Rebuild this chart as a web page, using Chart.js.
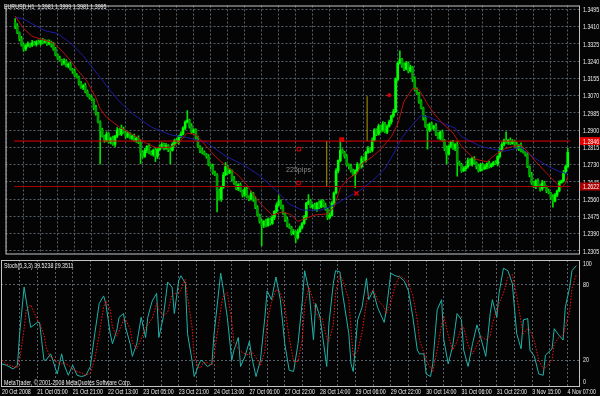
<!DOCTYPE html>
<html>
<head>
<meta charset="utf-8">
<title>EURUSD H1</title>
<script src="https://cdn.jsdelivr.net/npm/chart.js@4.4.0/dist/chart.umd.min.js"></script>
<style>
  html, body { margin: 0; padding: 0; background: #040404; }
  #wrap { position: relative; width: 600px; height: 396px; overflow: hidden; background: #040404; }
  #price-box { position: absolute; left: 0; top: 0; width: 600px; height: 259px; }
  #stoch-box { position: absolute; left: 0; top: 259px; width: 600px; height: 137px; }
</style>
</head>
<body>
<div id="wrap">
  <div id="price-box"><canvas id="price-chart" width="600" height="259"></canvas></div>
  <div id="stoch-box"><canvas id="stoch-chart" width="600" height="137"></canvas></div>
</div>
<script>
// EURUSD H1 with two moving averages and Stochastic(5,3,3)

const FONT = '8px "Liberation Sans", Arial, sans-serif';
const SQUASH = 0.66;   // screenshot text is horizontally condensed
const GRID = '#56606b';
const FRAME = '#c4c4c4';
const TEXT = '#f0f0f0';

// time axis labels, one every 16 bars
const timeLabels = ['20 Oct 2008', '21 Oct 05:00', '21 Oct 21:00', '22 Oct 13:00', '23 Oct 05:00',
  '23 Oct 21:00', '24 Oct 13:00', '27 Oct 06:00', '27 Oct 22:00', '28 Oct 14:00', '29 Oct 06:00',
  '29 Oct 22:00', '30 Oct 14:00', '31 Oct 06:00', '31 Oct 22:00', '3 Nov 15:00', '4 Nov 07:00'];

const priceTicks = [1.2305, 1.2390, 1.2475, 1.2560, 1.2645, 1.2730, 1.2815, 1.2900,
  1.2985, 1.3070, 1.3155, 1.3240, 1.3325, 1.3410, 1.3495];

// hourly bars
const opens = [
  1.3430,1.3415,1.3380,1.3350,1.3320,1.3300,1.3315,1.3325,1.3318,1.3330,
  1.3322,1.3335,1.3328,1.3340,1.3332,1.3338,1.3325,1.3335,1.3320,1.3300,
  1.3270,1.3255,1.3245,1.3230,1.3240,1.3215,1.3225,1.3200,1.3190,1.3170,
  1.3160,1.3130,1.3110,1.3120,1.3090,1.3070,1.3060,1.3050,1.3010,1.2980,
  1.2940,1.2900,1.2870,1.2850,1.2880,1.2840,1.2860,1.2830,1.2870,1.2900,
  1.2880,1.2905,1.2890,1.2870,1.2880,1.2860,1.2870,1.2850,1.2860,1.2840,
  1.2790,1.2770,1.2800,1.2820,1.2790,1.2780,1.2800,1.2770,1.2805,1.2815,
  1.2830,1.2810,1.2825,1.2805,1.2800,1.2830,1.2850,1.2840,1.2870,1.2880,
  1.2910,1.2940,1.2950,1.2920,1.2890,1.2900,1.2860,1.2820,1.2800,1.2790,
  1.2780,1.2770,1.2730,1.2720,1.2690,1.2680,1.2600,1.2560,1.2620,1.2680,
  1.2720,1.2690,1.2700,1.2660,1.2640,1.2610,1.2630,1.2600,1.2580,1.2610,
  1.2570,1.2560,1.2590,1.2560,1.2520,1.2480,1.2450,1.2430,1.2450,1.2430,
  1.2460,1.2440,1.2470,1.2500,1.2530,1.2550,1.2520,1.2490,1.2460,1.2430,
  1.2420,1.2390,1.2400,1.2370,1.2400,1.2420,1.2440,1.2470,1.2540,1.2550,
  1.2520,1.2530,1.2510,1.2540,1.2520,1.2550,1.2530,1.2510,1.2470,1.2480,
  1.2540,1.2590,1.2700,1.2750,1.2800,1.2790,1.2770,1.2730,1.2720,1.2700,
  1.2680,1.2700,1.2730,1.2720,1.2760,1.2750,1.2790,1.2810,1.2800,1.2850,
  1.2900,1.2880,1.2920,1.2900,1.2930,1.2890,1.2920,1.2940,1.2970,1.2990,
  1.3150,1.3230,1.3250,1.3220,1.3200,1.3230,1.3190,1.3210,1.3150,1.3100,
  1.3080,1.3040,1.3010,1.2960,1.2920,1.2900,1.2930,1.2910,1.2920,1.2880,
  1.2860,1.2890,1.2850,1.2810,1.2780,1.2820,1.2840,1.2810,1.2830,1.2740,
  1.2730,1.2700,1.2710,1.2720,1.2750,1.2730,1.2760,1.2740,1.2720,1.2700,
  1.2730,1.2710,1.2720,1.2735,1.2720,1.2730,1.2740,1.2735,1.2770,1.2800,
  1.2830,1.2850,1.2840,1.2850,1.2835,1.2845,1.2830,1.2810,1.2825,1.2800,
  1.2790,1.2780,1.2720,1.2680,1.2640,1.2620,1.2650,1.2630,1.2610,1.2640,
  1.2620,1.2600,1.2590,1.2570,1.2550,1.2580,1.2600,1.2640,1.2650,1.2690,1.2720
];
const highs = [
  1.3450,1.3425,1.3384,1.3362,1.3328,1.3321,1.3335,1.3329,1.3342,1.3338,
  1.3341,1.3345,1.3344,1.3352,1.3346,1.3344,1.3345,1.3339,1.3332,1.3308,
  1.3276,1.3265,1.3249,1.3252,1.3248,1.3231,1.3235,1.3204,1.3202,1.3178,
  1.3166,1.3140,1.3124,1.3132,1.3098,1.3076,1.3070,1.3054,1.3022,1.2988,
  1.2946,1.2910,1.2874,1.2892,1.2888,1.2866,1.2870,1.2874,1.2912,1.2908,
  1.2925,1.2915,1.2894,1.2892,1.2888,1.2876,1.2880,1.2864,1.2872,1.2848,
  1.2796,1.2810,1.2824,1.2832,1.2798,1.2806,1.2810,1.2809,1.2827,1.2838,
  1.2836,1.2835,1.2829,1.2817,1.2838,1.2856,1.2860,1.2874,1.2892,1.2918,
  1.2946,1.2996,1.2954,1.2932,1.2908,1.2906,1.2870,1.2824,1.2812,1.2798,
  1.2786,1.2780,1.2734,1.2732,1.2698,1.2686,1.2610,1.2624,1.2692,1.2740,
  1.2726,1.2710,1.2704,1.2672,1.2648,1.2636,1.2640,1.2604,1.2622,1.2618,
  1.2576,1.2600,1.2594,1.2572,1.2528,1.2486,1.2460,1.2454,1.2462,1.2468,
  1.2466,1.2480,1.2504,1.2542,1.2577,1.2556,1.2530,1.2494,1.2472,1.2438,
  1.2426,1.2410,1.2404,1.2412,1.2428,1.2446,1.2480,1.2544,1.2582,1.2558,
  1.2536,1.2540,1.2544,1.2552,1.2558,1.2556,1.2540,1.2514,1.2492,1.2548,
  1.2596,1.2710,1.2754,1.2853,1.2808,1.2796,1.2780,1.2734,1.2732,1.2708,
  1.2706,1.2740,1.2734,1.2772,1.2768,1.2796,1.2820,1.2814,1.2862,1.2908,
  1.2906,1.2930,1.2924,1.2942,1.2938,1.2926,1.2950,1.2974,1.3002,1.3158,
  1.3236,1.3291,1.3254,1.3232,1.3238,1.3236,1.3220,1.3214,1.3162,1.3108,
  1.3086,1.3050,1.3014,1.2972,1.2928,1.2936,1.2940,1.2924,1.2932,1.2888,
  1.2896,1.2900,1.2854,1.2822,1.2828,1.2846,1.2850,1.2834,1.2842,1.2748,
  1.2736,1.2720,1.2724,1.2762,1.2758,1.2766,1.2770,1.2744,1.2732,1.2738,
  1.2736,1.2730,1.2739,1.2747,1.2738,1.2746,1.2750,1.2774,1.2812,1.2838,
  1.2856,1.2891,1.2854,1.2862,1.2853,1.2851,1.2840,1.2829,1.2837,1.2808,
  1.2796,1.2790,1.2724,1.2692,1.2648,1.2656,1.2660,1.2634,1.2652,1.2648,
  1.2626,1.2610,1.2594,1.2582,1.2588,1.2606,1.2650,1.2654,1.2702,1.2728,1.2810
];
const lows = [
  1.3400,1.3375,1.3339,1.3313,1.3288,1.3292,1.3310,1.3307,1.3311,1.3318,
  1.3314,1.3323,1.3317,1.3325,1.3328,1.3317,1.3320,1.3309,1.3293,1.3266,
  1.3247,1.3240,1.3219,1.3223,1.3211,1.3207,1.3195,1.3179,1.3163,1.3156,
  1.3122,1.3105,1.3099,1.3083,1.3066,1.3052,1.3045,1.2999,1.2973,1.2936,
  1.2734,1.2865,1.2839,1.2843,1.2836,1.2832,1.2825,1.2819,1.2863,1.2876,
  1.2872,1.2885,1.2859,1.2863,1.2856,1.2852,1.2845,1.2839,1.2833,1.2735,
  1.2762,1.2765,1.2789,1.2783,1.2776,1.2772,1.2745,1.2759,1.2798,1.2811,
  1.2802,1.2805,1.2794,1.2735,1.2796,1.2822,1.2835,1.2829,1.2863,1.2876,
  1.2902,1.2935,1.2909,1.2883,1.2886,1.2852,1.2815,1.2789,1.2783,1.2776,
  1.2762,1.2725,1.2709,1.2683,1.2676,1.2497,1.2555,1.2549,1.2613,1.2676,
  1.2682,1.2685,1.2649,1.2633,1.2606,1.2602,1.2595,1.2569,1.2573,1.2566,
  1.2552,1.2555,1.2549,1.2513,1.2476,1.2442,1.2330,1.2419,1.2423,1.2426,
  1.2432,1.2435,1.2459,1.2493,1.2526,1.2512,1.2485,1.2449,1.2423,1.2416,
  1.2382,1.2385,1.2345,1.2363,1.2396,1.2412,1.2435,1.2459,1.2533,1.2516,
  1.2512,1.2505,1.2499,1.2513,1.2516,1.2522,1.2505,1.2459,1.2463,1.2476,
  1.2532,1.2585,1.2689,1.2743,1.2786,1.2762,1.2725,1.2709,1.2693,1.2676,
  1.2616,1.2695,1.2709,1.2713,1.2746,1.2742,1.2785,1.2789,1.2793,1.2846,
  1.2872,1.2875,1.2889,1.2893,1.2886,1.2882,1.2915,1.2929,1.2963,1.2986,
  1.3142,1.3225,1.3209,1.3193,1.3196,1.3182,1.3185,1.3139,1.3093,1.3076,
  1.3032,1.3005,1.2949,1.2913,1.2806,1.2892,1.2905,1.2899,1.2873,1.2856,
  1.2852,1.2845,1.2799,1.2734,1.2776,1.2812,1.2805,1.2799,1.2673,1.2726,
  1.2692,1.2695,1.2699,1.2713,1.2726,1.2722,1.2735,1.2709,1.2693,1.2696,
  1.2702,1.2705,1.2709,1.2713,1.2716,1.2722,1.2730,1.2724,1.2763,1.2796,
  1.2822,1.2835,1.2829,1.2828,1.2831,1.2822,1.2805,1.2799,1.2793,1.2786,
  1.2772,1.2715,1.2669,1.2633,1.2616,1.2612,1.2625,1.2599,1.2603,1.2616,
  1.2592,1.2585,1.2559,1.2520,1.2546,1.2572,1.2595,1.2639,1.2643,1.2686,1.2712
];
const closes = [
  1.3415,1.3380,1.3350,1.3320,1.3300,1.3315,1.3325,1.3318,1.3330,1.3322,
  1.3335,1.3328,1.3340,1.3332,1.3338,1.3325,1.3335,1.3320,1.3300,1.3270,
  1.3255,1.3245,1.3230,1.3240,1.3215,1.3225,1.3200,1.3190,1.3170,1.3160,
  1.3130,1.3110,1.3120,1.3090,1.3070,1.3060,1.3050,1.3010,1.2980,1.2940,
  1.2900,1.2870,1.2850,1.2880,1.2840,1.2860,1.2830,1.2870,1.2900,1.2880,
  1.2905,1.2890,1.2870,1.2880,1.2860,1.2870,1.2850,1.2860,1.2840,1.2790,
  1.2770,1.2800,1.2820,1.2790,1.2780,1.2800,1.2770,1.2805,1.2815,1.2830,
  1.2810,1.2825,1.2805,1.2800,1.2830,1.2850,1.2840,1.2870,1.2880,1.2910,
  1.2940,1.2950,1.2920,1.2890,1.2900,1.2860,1.2820,1.2800,1.2790,1.2780,
  1.2770,1.2730,1.2720,1.2690,1.2680,1.2600,1.2560,1.2620,1.2680,1.2720,
  1.2690,1.2700,1.2660,1.2640,1.2610,1.2630,1.2600,1.2580,1.2610,1.2570,
  1.2560,1.2590,1.2560,1.2520,1.2480,1.2450,1.2430,1.2450,1.2430,1.2460,
  1.2440,1.2470,1.2500,1.2530,1.2550,1.2520,1.2490,1.2460,1.2430,1.2420,
  1.2390,1.2400,1.2370,1.2400,1.2420,1.2440,1.2470,1.2540,1.2550,1.2520,
  1.2530,1.2510,1.2540,1.2520,1.2550,1.2530,1.2510,1.2470,1.2480,1.2540,
  1.2590,1.2700,1.2750,1.2800,1.2790,1.2770,1.2730,1.2720,1.2700,1.2680,
  1.2700,1.2730,1.2720,1.2760,1.2750,1.2790,1.2810,1.2800,1.2850,1.2900,
  1.2880,1.2920,1.2900,1.2930,1.2890,1.2920,1.2940,1.2970,1.2990,1.3150,
  1.3230,1.3250,1.3220,1.3200,1.3230,1.3190,1.3210,1.3150,1.3100,1.3080,
  1.3040,1.3010,1.2960,1.2920,1.2900,1.2930,1.2910,1.2920,1.2880,1.2860,
  1.2890,1.2850,1.2810,1.2780,1.2820,1.2840,1.2810,1.2830,1.2740,1.2730,
  1.2700,1.2710,1.2720,1.2750,1.2730,1.2760,1.2740,1.2720,1.2700,1.2730,
  1.2710,1.2720,1.2735,1.2720,1.2730,1.2740,1.2735,1.2770,1.2800,1.2830,
  1.2850,1.2840,1.2850,1.2835,1.2845,1.2830,1.2810,1.2825,1.2800,1.2790,
  1.2780,1.2720,1.2680,1.2640,1.2620,1.2650,1.2630,1.2610,1.2640,1.2620,
  1.2600,1.2590,1.2570,1.2550,1.2580,1.2600,1.2640,1.2650,1.2690,1.2720,1.2790
];

// moving averages, read at selected bars
const redMaBars = [0,4,8,14,18,22,26,29,34,38,40,43,49,57,61,66,73,77,81,85,88,90,94,99,105,109,112,117,121,126,
  130,133,136,141,147,150,153,157,161,163,168,172,177,180,183,187,190,194,197,201,206,210,216,222,225,230,234,238,240,245,
  251,256,257,259,260];
const redMaValues = [1.3462,1.3400,1.3362,1.3343,1.3329,1.3291,1.3243,1.3200,1.3138,1.3058,1.3005,1.2963,1.2915,1.2868,1.2839,
  1.2815,1.2815,1.2839,1.2886,1.2877,1.2844,1.2820,1.2772,1.2725,1.2677,1.2630,1.2582,1.2520,1.2482,1.2497,
  1.2482,1.2449,1.2463,1.2482,1.2487,1.2520,1.2616,1.2663,1.2687,1.2734,1.2768,1.2806,1.2868,1.2930,1.3043,
  1.3105,1.3100,1.3029,1.2982,1.2934,1.2886,1.2820,1.2758,1.2744,1.2772,1.2806,1.2820,1.2825,1.2806,1.2744,
  1.2677,1.2625,1.2616,1.2639,1.2673];
const blueMaBars = [0,4,8,14,20,26,32,38,44,48,55,64,73,81,90,99,108,115,123,129,135,144,150,156,162,168,174,178,182,188,
  191,195,200,207,210,219,225,230,238,240,245,251,256,259,260];
const blueMaValues = [1.3457,1.3447,1.3424,1.3390,1.3376,1.3329,1.3267,1.3186,1.3105,1.3053,1.2982,1.2915,1.2877,1.2863,1.2839,
  1.2772,1.2725,1.2677,1.2601,1.2535,1.2506,1.2506,1.2530,1.2568,1.2601,1.2649,1.2711,1.2782,1.2863,1.2939,
  1.2972,1.2963,1.2939,1.2910,1.2868,1.2820,1.2806,1.2796,1.2815,1.2796,1.2758,1.2720,1.2696,1.2687,1.2696];

// objects drawn on the chart
const levelPrices = [1.2846, 1.2622];
const levelColors = ['#e00000', '#a80000'];
const vlineBars = [146.6, 165.6];
const vlineLows = [1.2622, 1.2846];
const vlineHighs = [1.2846, 1.3067];
const boxMarkBars = [133.5, 133.3, 153.7];
const boxMarkPrices = [1.2806, 1.2639, 1.2853];
const crossMarkBars = [153.7, 160.6];
const crossMarkPrices = [1.2853, 1.2588];
const dotMarkBars = [176];
const dotMarkPrices = [1.3072];
const noteText = '225pips';
const noteBar = 133.3;
const notePrice = 1.2706;

// Stochastic(5,3,3), read at selected bars
const stochBars = [0,2,5,7,8,10,11,13,16,17,19,20,22,23,25,27,28,30,32,34,36,38,40,42,44,46,47,49,50,52,
  53,55,56,58,59,61,63,65,66,68,70,71,73,75,77,78,80,81,83,84,86,87,89,90,91,93,95,96,99,100,
  102,104,105,107,108,110,112,113,115,117,119,120,122,124,126,128,130,132,134,136,137,139,141,142,144,145,147,148,150,151,
  153,154,157,158,159,161,163,165,166,168,170,173,174,176,178,180,182,184,186,188,189,191,192,194,195,197,199,200,202,204,
  206,208,209,211,213,215,217,219,221,222,224,225,227,229,231,233,235,236,238,239,241,243,245,246,249,250,252,254,255,257,
  258,260];
const stochMain = [17,16,13,16,41,78,67,46,50,50,20,20,25,20,9,25,17,8,16,8,7,8,15,41,65,71,65,41,33,44,
  54,57,46,33,23,33,54,38,54,67,73,38,54,82,78,57,83,87,81,41,20,7,16,20,19,15,17,41,89,78,
  54,20,28,38,15,23,35,23,7,20,54,75,68,86,68,33,12,11,33,68,91,75,36,65,54,41,15,49,81,91,
  90,75,41,17,11,52,62,85,68,75,62,50,60,89,87,86,83,75,54,28,25,25,9,7,17,60,68,36,17,31,
  57,52,28,15,33,48,36,23,57,68,54,73,93,91,81,41,29,52,53,28,23,9,8,24,29,45,40,36,62,78,
  91,95];
const stochSignal = [20,17,15,14,20,45,60,64,52,50,40,30,22,22,18,17,18,16,13,11,10,8,10,21,40,62,67,60,46,39,
  43,52,52,45,34,29,37,46,48,53,65,60,55,58,72,73,73,76,84,70,47,23,14,14,18,18,16,24,60,70,
  74,51,34,29,27,25,24,27,22,16,27,50,66,76,74,62,38,19,19,37,64,78,67,58,52,53,37,35,48,74,
  87,85,68,44,23,27,42,66,72,76,68,62,57,66,79,87,85,81,71,52,36,26,20,14,11,28,48,55,40,28,
  35,47,46,32,25,32,39,36,39,49,60,65,73,86,88,71,50,41,45,44,35,20,13,14,20,33,38,40,46,59,
  77,88];
const stochLevels = [100, 80, 20, 0];

const headerText = 'EURUSD,H1  1.3981 1.3999 1.3981 1.3995';
const stochText = 'Stoch(5,3,3) 39.5238 29.3511';
const footerText = 'MetaTrader, \u00a9 2001-2008 MetaQuotes Software Corp.';

const X_MIN = -0.45;
const X_MAX = 261.2;
const gridBars = timeLabels.flatMap((_, j) => [j * 16, j * 16 + 8]).filter(b => b <= 256);

// build datasets
const barIdx = closes.map((_, i) => i);
const wickData = barIdx.map(i => ({ x: i, y: [lows[i], highs[i]] }));
const bodyData = barIdx.map(i => ({ x: i, y: [opens[i], closes[i]] }));
const bodyColors = barIdx.map(i => closes[i] >= opens[i] ? '#00ff00' : '#00a000');
const pairs = (xs, ys) => xs.map((x, i) => ({ x: x, y: ys[i] }));

// condensed text, like the small terminal font in the screenshot
function squashText(ctx, text, x, y, color) {
    ctx.save();
    ctx.translate(x, y);
    ctx.scale(SQUASH, 1);
    ctx.font = FONT;
    ctx.textAlign = 'left';
    ctx.textBaseline = 'middle';
    ctx.fillStyle = color || TEXT;
    ctx.fillText(text, 0, 0);
    ctx.restore();
}

function xAxis(height) {
    return {
        type: 'linear',
        min: X_MIN,
        max: X_MAX,
        afterBuildTicks: s => { s.ticks = gridBars.map(v => ({ value: v })); },
        afterFit: s => { s.height = height; },
        grid: { color: GRID, drawTicks: false },
        border: { display: false, dash: [2, 2] },
        ticks: { display: false }
    };
}

function yAxis(min, max, ticks) {
    return {
        position: 'right',
        min: min,
        max: max,
        afterBuildTicks: s => { s.ticks = ticks.map(v => ({ value: v })); },
        afterFit: s => { s.width = 21; },
        grid: { color: GRID, drawTicks: false },
        border: { display: false, dash: [2, 2] },
        ticks: { display: false }
    };
}

function drawFrame(ctx, a) {
    ctx.strokeStyle = FRAME;
    ctx.lineWidth = 1;
    ctx.strokeRect(a.left + 0.5, a.top + 0.5, a.right - a.left, a.bottom - a.top);
}

function levelLine(i) {
    return { type: 'line', data: [{ x: X_MIN, y: levelPrices[i] }, { x: X_MAX, y: levelPrices[i] }],
             borderColor: levelColors[i], borderWidth: 1, pointRadius: 0, order: 0 };
}

function vLine(i) {
    return { type: 'line', data: [{ x: vlineBars[i], y: vlineLows[i] }, { x: vlineBars[i], y: vlineHighs[i] }],
             borderColor: '#b09a00', borderWidth: 1, pointRadius: 0, order: 0 };
}

const priceDecor = {
    id: 'priceDecor',
    afterDraw(chart) {
        const { ctx, chartArea, scales } = chart;
        ctx.save();
        drawFrame(ctx, chartArea);
        priceTicks.forEach(p => {
            squashText(ctx, p.toFixed(4), chartArea.right + 4, scales.y.getPixelForValue(p) + 0.5);
        });
        // level labels on the price axis
        levelPrices.forEach((p, i) => {
            const py = scales.y.getPixelForValue(p);
            ctx.fillStyle = levelColors[i];
            ctx.fillRect(chartArea.right + 1, py - 4, 21, 8);
            squashText(ctx, p.toFixed(4), chartArea.right + 4, py + 0.5, '#ffffff');
        });
        // note text
        ctx.fillStyle = '#8c8c8c';
        ctx.textAlign = 'center';
        ctx.textBaseline = 'middle';
        ctx.font = FONT;
        ctx.fillText(noteText, scales.x.getPixelForValue(noteBar), scales.y.getPixelForValue(notePrice), 25);
        squashText(ctx, headerText, 4, 6.5);
        ctx.restore();
    }
};

const stochDecor = {
    id: 'stochDecor',
    afterDraw(chart) {
        const { ctx, chartArea, scales } = chart;
        ctx.save();
        drawFrame(ctx, chartArea);
        stochLevels.forEach(v => {
            const py = Math.min(Math.max(scales.y.getPixelForValue(v), chartArea.top + 4), chartArea.bottom - 4);
            squashText(ctx, String(v), chartArea.right + 4, py);
        });
        timeLabels.forEach((t, j) => {
            squashText(ctx, t, scales.x.getPixelForValue(j * 16), chartArea.bottom + 5.5);
        });
        squashText(ctx, stochText, 4, 6.5);
        squashText(ctx, footerText, 4, 123.5);
        ctx.restore();
    }
};

const priceChart = new Chart(document.getElementById('price-chart'), {
    type: 'bar',
    data: {
        datasets: [
            levelLine(0),
            levelLine(1),
            vLine(0),
            vLine(1),
            { type: 'line', data: pairs(boxMarkBars, boxMarkPrices), showLine: false,
              pointStyle: 'rect', pointRadius: 2.5, pointBorderColor: '#e00000', pointBackgroundColor: 'rgba(0,0,0,0)',
              pointBorderWidth: 1, order: 0 },
            { type: 'line', data: pairs(crossMarkBars, crossMarkPrices), showLine: false,
              pointStyle: 'crossRot', pointRadius: 3, pointBorderColor: '#e00000', pointBorderWidth: 1.5, order: 0 },
            { type: 'line', data: pairs(dotMarkBars, dotMarkPrices), showLine: false,
              pointStyle: 'circle', pointRadius: 1.5, pointBorderColor: '#e00000', pointBackgroundColor: '#e00000', order: 0 },
            { type: 'line', data: pairs(redMaBars, redMaValues), borderColor: '#b81010', borderWidth: 1,
              pointRadius: 0, tension: 0, order: 1 },
            { type: 'line', data: pairs(blueMaBars, blueMaValues), borderColor: '#1c1ca0', borderWidth: 1,
              pointRadius: 0, tension: 0, order: 1 },
            { data: bodyData, backgroundColor: bodyColors, barThickness: 2, grouped: false, borderWidth: 0, order: 2 },
            { data: wickData, backgroundColor: '#00e000', barThickness: 1, grouped: false, borderWidth: 0, order: 3 }
        ]
    },
    options: {
        responsive: false,
        animation: false,
        layout: { padding: { left: 1, top: 1, right: 0, bottom: 1 } },
        plugins: { legend: { display: false }, tooltip: { enabled: false } },
        scales: {
            x: xAxis(0),
            y: yAxis(1.2292, 1.3514, priceTicks)
        }
    },
    plugins: [priceDecor]
});

const stochChart = new Chart(document.getElementById('stoch-chart'), {
    type: 'line',
    data: {
        datasets: [
            { data: pairs(stochBars, stochSignal), borderColor: '#ff1010', borderWidth: 1, borderDash: [1.5, 1.5],
              pointRadius: 0, tension: 0 },
            { data: pairs(stochBars, stochMain), borderColor: '#20b2aa', borderWidth: 1,
              pointRadius: 0, tension: 0 }
        ]
    },
    options: {
        responsive: false,
        animation: false,
        layout: { padding: { left: 1, top: 1, right: 0, bottom: 0 } },
        plugins: { legend: { display: false }, tooltip: { enabled: false } },
        scales: {
            x: xAxis(10),
            y: yAxis(-0.5, 99.5, [20, 80])
        }
    },
    plugins: [stochDecor]
});
</script>
</body>
</html>
